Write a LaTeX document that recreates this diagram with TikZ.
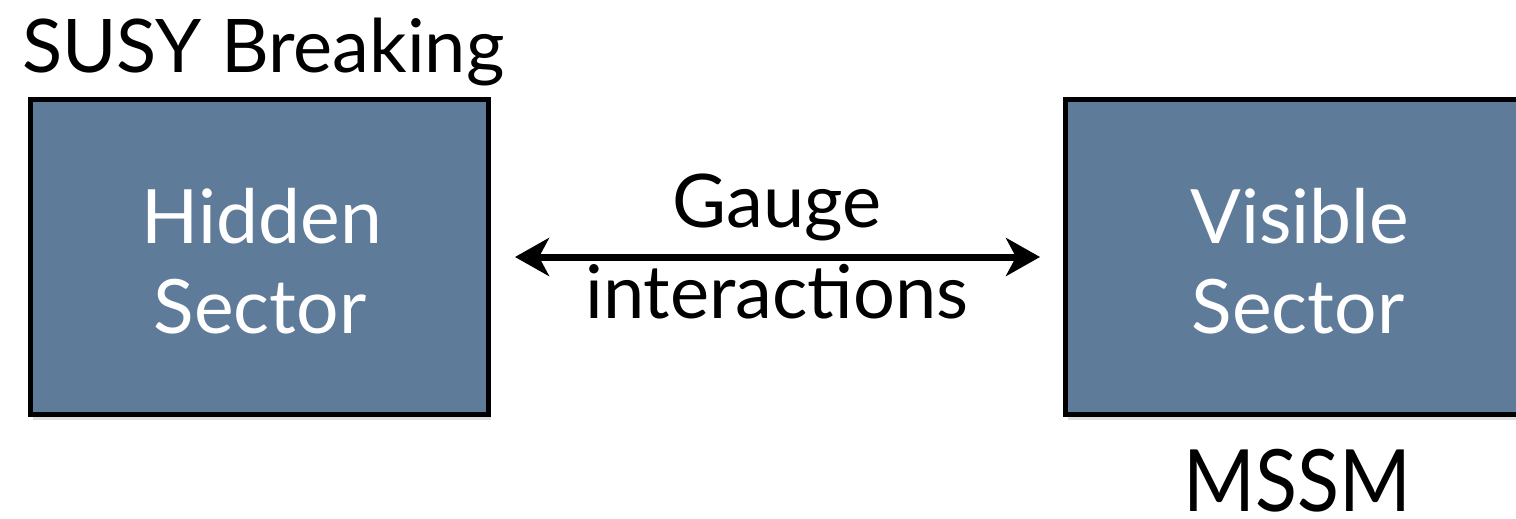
\documentclass[tikz,border=0pt]{standalone}
\usepackage{fontspec}
\setmainfont{Lato}
\usetikzlibrary{shadows,arrows.meta}
\definecolor{boxblue}{HTML}{5F7B9A}
\begin{document}
\begin{tikzpicture}[x=1pt,y=-1pt,
  sectorbox/.style={draw=black, line width=5pt, fill=boxblue, minimum width=458pt, minimum height=315pt,
    drop shadow={shadow xshift=2pt, shadow yshift=-5pt, opacity=0.25}},
  boxtext/.style={text=white, font=\fontsize{75}{90}\selectfont, anchor=base, inner sep=0pt},
  label/.style={text=black, anchor=base, inner sep=0pt},
  link/.style={line width=7pt, {Stealth[length=34pt,width=38pt,inset=10pt]}-{Stealth[length=34pt,width=38pt,inset=10pt]}}
]
\useasboundingbox (0,0) rectangle (1516,519);
\begin{scope}
\clip (0,0) rectangle (1516,519);
\node[sectorbox] (hidden) at (259.5,257) {};
\node[sectorbox] (visible) at (1294.5,257) {};
\end{scope}
\node[boxtext] (h1) at (262,243) {Hidden};
\node[boxtext] (h2) at (260,333) {Sector};
\node[boxtext] (v1) at (1300,243) {Visible};
\node[boxtext] (v2) at (1298,333) {Sector};
\node[label, anchor=base west, font=\fontsize{74}{90}\selectfont] (susy) at (22,73) {SUSY Breaking};
\node[label, text depth=0pt, font=\fontsize{86}{100}\selectfont] (mssm) at (1297,511) {\scalebox{0.9}[1]{MSSM}};
\node[label, font=\fontsize{74}{80}\selectfont] (gauge) at (777,227) {Gauge};
\node[label, font=\fontsize{74}{80}\selectfont] (inter) at (777,318) {interactions};
\draw[link, shorten <=24pt, shorten >=23pt] (hidden) -- (visible);
\end{tikzpicture}
\end{document}
